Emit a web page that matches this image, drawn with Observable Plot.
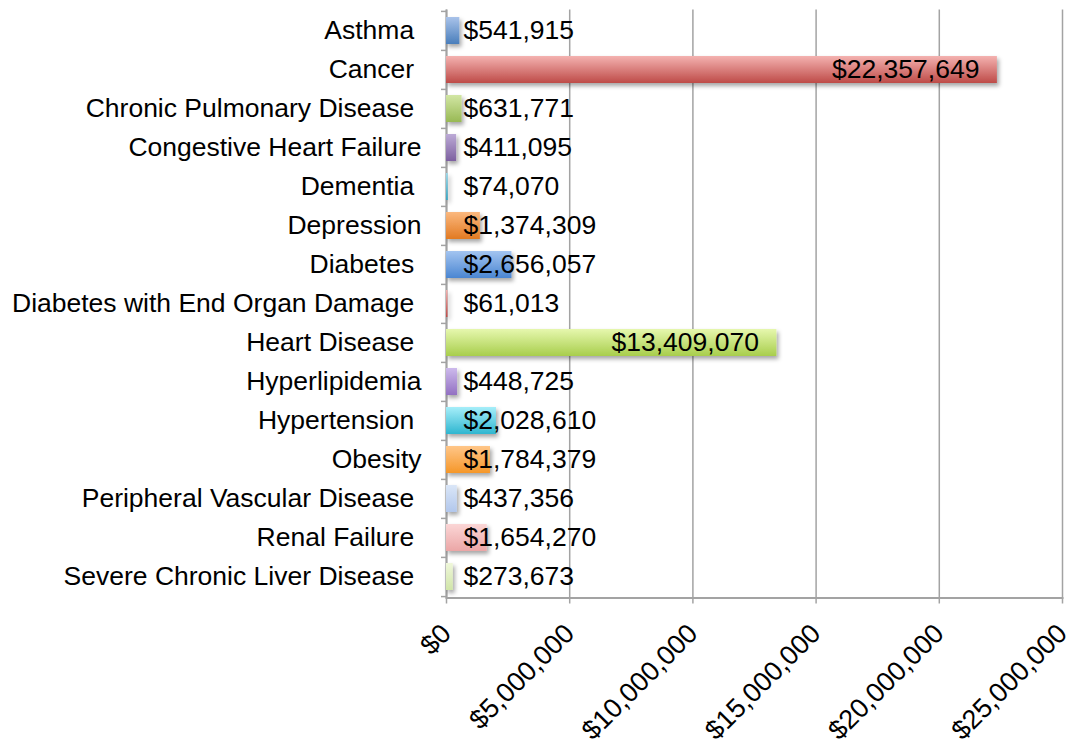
<!DOCTYPE html>
<html>
<head>
<meta charset="utf-8">
<script src="https://cdn.jsdelivr.net/npm/d3@7"></script>
<script src="https://cdn.jsdelivr.net/npm/@observablehq/plot@0.6"></script>
<style>
  html, body { margin: 0; padding: 0; background: #fff; }
</style>
</head>
<body>
<div id="chart"></div>
<script>
const NB = "\u00a0";
const categories = [
  "Asthma" + NB, "Cancer" + NB, "Chronic Pulmonary Disease" + NB, "Congestive Heart Failure",
  "Dementia" + NB, "Depression", "Diabetes" + NB, "Diabetes with End Organ Damage" + NB,
  "Heart Disease" + NB, "Hyperlipidemia", "Hypertension" + NB, "Obesity",
  "Peripheral Vascular Disease" + NB, "Renal Failure" + NB, "Severe Chronic Liver Disease" + NB
];
const costs = [
  541915, 22357649, 631771, 411095, 74070, 1374309, 2656057, 61013,
  13409070, 448725, 2028610, 1784379, 437356, 1654270, 273673
];
const topColors = [
  "#a9c3ea", "#f4b2b0", "#d2e6a4", "#bcaad6", "#9ed8e8", "#fbb87e", "#a3c4f0", "#f4b2b0",
  "#e6f7ae", "#cdbaec", "#a6eef9", "#ffc688", "#dae6f7", "#fbd6d6", "#eff7da"
];
const bottomColors = [
  "#4a7ebb", "#be4b48", "#98b954", "#7d60a0", "#3aa6c2", "#e27a22", "#4a86d2", "#be4b48",
  "#a8ce4c", "#9270c2", "#2fb6d0", "#f5972a", "#b2c7ec", "#eba6a6", "#d0e5a8"
];
const xTicks = [0, 5000000, 10000000, 15000000, 20000000, 25000000];

const fmt = d3.format(",");
const money = d => "$" + fmt(d);
const data = categories.map((c, i) => ({category: c, cost: costs[i], grad: `url(#grad${i})`}));

const svg = Plot.plot({
  width: 1074,
  height: 746,
  marginLeft: 446,
  marginRight: 12,
  marginTop: 9.5,
  marginBottom: 148.5,
  style: {fontFamily: "'Liberation Sans', Arial, sans-serif", fontSize: "26px", background: "white", color: "black"},
  x: {domain: [0, 25000000]},
  y: {domain: categories, paddingInner: 0.31, paddingOuter: 0.155},
  color: {type: "identity"},
  marks: [
    Plot.gridX({ticks: xTicks, stroke: "#a3a3a3", strokeOpacity: 1, strokeWidth: 1.5}),
    Plot.frame({anchor: "bottom", stroke: "#a3a3a3", strokeWidth: 2}),
    Plot.ruleX([0], {stroke: "#a3a3a3", strokeWidth: 2}),
    Plot.barX(data, {x: "cost", y: "category", fill: "grad"}),
    Plot.axisX({ticks: xTicks, tickFormat: money, tickRotate: -45, tickSize: 6, tickPadding: 25, stroke: "#a3a3a3", strokeWidth: 1.5, fontSize: 27, label: null}),
    Plot.axisY({tickSize: 0, tickPadding: 25, label: null, fontSize: 26.5}),
    Plot.axisY({tickSize: 5, tickFormat: () => "", dy: -19.6, stroke: "#a3a3a3", strokeWidth: 1.5, label: null}),
    Plot.axisY({ticks: [categories[categories.length - 1]], tickSize: 5, tickFormat: () => "", dy: 19.6, stroke: "#a3a3a3", strokeWidth: 1.5, label: null}),
    Plot.text(data, {filter: d => d.cost > 10000000, x: "cost", y: "category", text: d => money(d.cost), textAnchor: "end", dx: -18, fill: "black", fontSize: 26.5}),
    Plot.text(data, {filter: d => d.cost <= 10000000, x: () => 0, y: "category", text: d => money(d.cost), textAnchor: "start", dx: 17, fill: "black", fontSize: 26.5})
  ]
});

// gradients + shadow
const defs = d3.select(svg).insert("defs", ":first-child");
categories.forEach((c, i) => {
  const g = defs.append("linearGradient").attr("id", `grad${i}`).attr("x1", 0).attr("y1", 0).attr("x2", 0).attr("y2", 1);
  g.append("stop").attr("offset", "0%").attr("stop-color", topColors[i]);
  g.append("stop").attr("offset", "100%").attr("stop-color", bottomColors[i]);
});
const f = defs.append("filter").attr("id", "shadow").attr("filterUnits", "userSpaceOnUse")
  .attr("x", 0).attr("y", 0).attr("width", 1074).attr("height", 746);
f.append("feDropShadow").attr("dx", 2).attr("dy", 3).attr("stdDeviation", 2).attr("flood-color", "#000").attr("flood-opacity", 0.35);
d3.select(svg).selectAll("g[aria-label='bar'] rect").attr("filter", "url(#shadow)");

document.getElementById("chart").appendChild(svg);
</script>
</body>
</html>
